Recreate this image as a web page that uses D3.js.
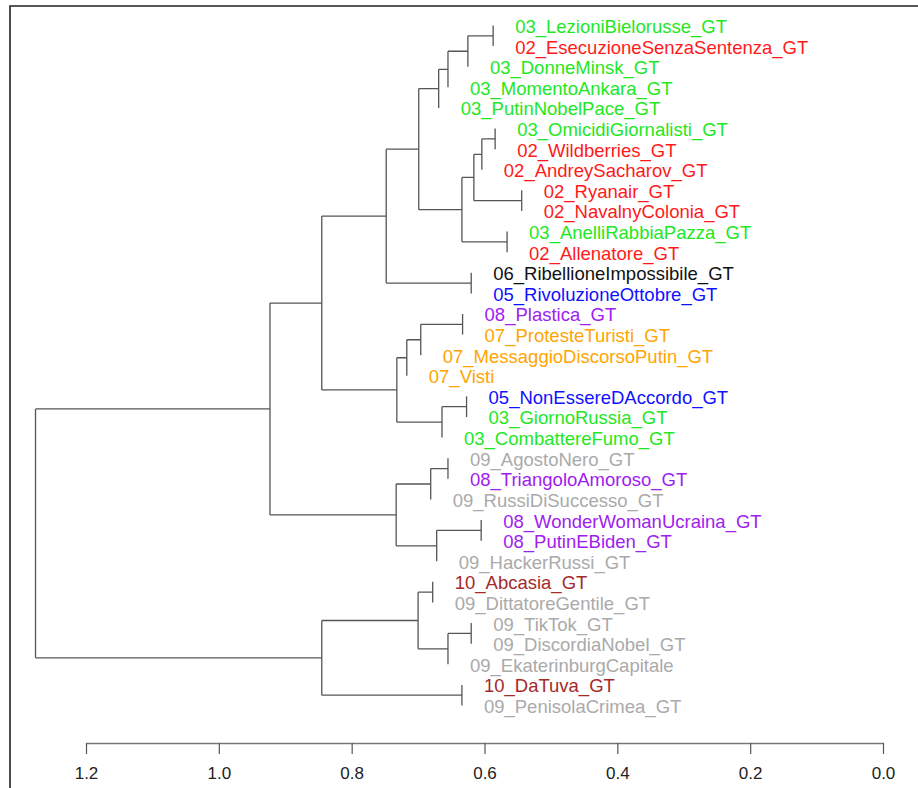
<!DOCTYPE html>
<html>
<head>
<meta charset="utf-8">
<script src="https://cdn.jsdelivr.net/npm/d3@7"></script>
<style>
  body { margin: 0; background: #fff; }
  svg { display: block; font-family: "Liberation Sans", Arial, sans-serif; }
</style>
</head>
<body>
<script>
// Leaf labels, top to bottom as they appear in the dendrogram
const labels = [
    "03_LezioniBielorusse_GT", "02_EsecuzioneSenzaSentenza_GT", "03_DonneMinsk_GT",
    "03_MomentoAnkara_GT", "03_PutinNobelPace_GT", "03_OmicidiGiornalisti_GT",
    "02_Wildberries_GT", "02_AndreySacharov_GT", "02_Ryanair_GT", "02_NavalnyColonia_GT",
    "03_AnelliRabbiaPazza_GT", "02_Allenatore_GT", "06_RibellioneImpossibile_GT",
    "05_RivoluzioneOttobre_GT", "08_Plastica_GT", "07_ProtesteTuristi_GT",
    "07_MessaggioDiscorsoPutin_GT", "07_Visti", "05_NonEssereDAccordo_GT",
    "03_GiornoRussia_GT", "03_CombattereFumo_GT", "09_AgostoNero_GT",
    "08_TriangoloAmoroso_GT", "09_RussiDiSuccesso_GT", "08_WonderWomanUcraina_GT",
    "08_PutinEBiden_GT", "09_HackerRussi_GT", "10_Abcasia_GT", "09_DittatoreGentile_GT",
    "09_TikTok_GT", "09_DiscordiaNobel_GT", "09_EkaterinburgCapitale", "10_DaTuva_GT",
    "09_PenisolaCrimea_GT"
];

// hclust-style merge table: negative = leaf number, positive = earlier merge row
const merge = [
    [-1, -2], [1, -3], [2, -4], [3, -5], [-6, -7], [5, -8], [-9, -10], [6, 7],
    [-11, -12], [8, 9], [4, 10], [-13, -14], [11, 12], [-15, -16], [14, -17],
    [15, -18], [-19, -20], [17, -21], [16, 18], [13, 19], [-22, -23], [21, -24],
    [-25, -26], [23, -27], [22, 24], [20, 25], [-28, -29], [-30, -31], [28, -32],
    [27, 29], [-33, -34], [30, 31], [26, 32]
];

// Height of each merge row
const heights = [
    0.587, 0.625, 0.655, 0.669, 0.584, 0.604, 0.544, 0.616,
    0.566, 0.634, 0.699, 0.620, 0.748, 0.633, 0.696,
    0.717, 0.627, 0.664, 0.732, 0.845, 0.655, 0.681,
    0.605, 0.672, 0.733, 0.923, 0.678, 0.620, 0.655,
    0.700, 0.634, 0.845, 1.276
];

// Group prefixes and their label colours
const groupCodes = ["02", "03", "05", "06", "07", "08", "09", "10"];
const groupColors = ["#ff1a1a", "#1ee81e", "#1010ff", "#111111", "#ffa500", "#a020f0", "#aaaaaa", "#a52a2a"];

const tickValues = [1.2, 1.0, 0.8, 0.6, 0.4, 0.2, 0.0];

const width = 918;
const height = 788;

const svg = d3.select("body")
    .append("svg")
    .attr("width", width)
    .attr("height", height);

// Frame (only top and left edges show in the picture)
svg.append("path")
    .attr("d", `M10,${height} V6 H${width}`)
    .attr("fill", "none")
    .attr("stroke", "#222")
    .attr("stroke-width", 1.6);

// Scales
const x = d3.scaleLinear().domain([1.2, 0]).range([86, 883]);
const y = d3.scalePoint().domain(d3.range(labels.length)).range([25.5, 705.5]);
const color = d3.scaleOrdinal().domain(groupCodes).range(groupColors);

// Build a nested tree from the merge table
function buildNode(ref) {
    if (ref < 0) return { leaf: -ref - 1, name: labels[-ref - 1] };
    const row = ref - 1;
    return { height: heights[row], children: merge[row].map(buildNode) };
}
const root = d3.hierarchy(buildNode(merge.length));

// Vertical position: leaf order, internal nodes at the midpoint of their children
root.eachAfter(d => {
    if (d.children) {
        d.yPos = (d.children[0].yPos + d.children[1].yPos) / 2;
        d.h = d.data.height;
    } else {
        d.yPos = y(d.data.leaf);
    }
});
// Leaves sit at their parent's height
root.each(d => { if (!d.children) d.h = d.parent.h; });

const tree = svg.append("g")
    .attr("fill", "none")
    .attr("stroke", "#555")
    .attr("stroke-width", 1.3);

// Each merge: a vertical bar plus a horizontal line to every internal child
root.descendants().filter(d => d.children).forEach(d => {
    const a = d.children[0], b = d.children[1];
    let p = `M${x(d.h)},${a.yPos} V${b.yPos}`;
    d.children.forEach(c => {
        if (c.children) p += ` M${x(d.h)},${c.yPos} H${x(c.h)}`;
    });
    tree.append("path").attr("d", p);
});

// Leaf labels
svg.append("g")
    .selectAll("text")
    .data(root.leaves())
    .join("text")
    .attr("x", d => x(d.h) + 22)
    .attr("y", d => d.yPos + 1)
    .attr("dy", "0.35em")
    .attr("font-size", 18.5)
    .attr("fill", d => color(d.data.name.slice(0, 2)))
    .text(d => d.data.name);

// Bottom axis
const axis = svg.append("g")
    .attr("transform", "translate(0,743)")
    .call(d3.axisBottom(x)
        .tickValues(tickValues)
        .tickFormat(d3.format(".1f"))
        .tickSize(11)
        .tickSizeOuter(0));

axis.select(".domain").attr("stroke", "#777").attr("stroke-width", 1.5);
axis.selectAll(".tick line").attr("stroke", "#555").attr("stroke-width", 1.2);
axis.selectAll(".tick text")
    .attr("y", 24)
    .attr("font-size", 17)
    .attr("font-family", "Liberation Sans, Arial, sans-serif")
    .attr("fill", "#222");
</script>
</body>
</html>
